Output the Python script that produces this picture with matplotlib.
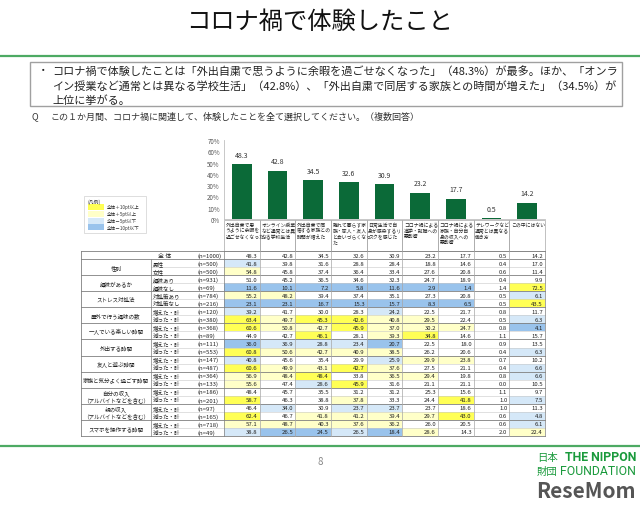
import matplotlib
matplotlib.use("Agg")
import matplotlib.pyplot as plt
from matplotlib.patches import Rectangle

plt.rcParams['font.family'] = ['Noto Sans CJK JP', 'DejaVu Sans']

# chart data
items = [
    "外出自粛で思\nうように余暇を\n過ごせなくなった",
    "オンライン授業\nなど通常とは異\nなる学校生活",
    "外出自粛で同\n居する家族との\n時間が増えた",
    "離れて暮らす家\n族・恋人・友人\nと会いづらくなっ\nた",
    "日常生活で自\n身が感染するリ\nスクを感じた",
    "コロナ禍による\n進学・就職への\n悪影響",
    "コロナ禍による\n家族・自分自\n身の収入への\n悪影響",
    "テレワークなど\n通常とは異なる\n働き方",
    "この中にはない",
]
overall = [48.3, 42.8, 34.5, 32.6, 30.9, 23.2, 17.7, 0.5, 14.2]

group_labels = ["性別", "趣味があるか", "ストレス対処法", "屋外で行う趣味の数",
                "一人でいる楽しい時間", "外出する時間", "友人と遊ぶ時間",
                "家族と気分よく過ごす時間", "自分の収入\n（アルバイトなどを含む）",
                "親の収入\n（アルバイトなどを含む）", "スマホを操作する時間"]
sub_labels = ["男性", "女性", "趣味あり", "趣味なし", "対処策あり", "対処策なし"] + \
    ["増えた・計", "減った・計"] * 8
n_labels = ["(n=500)", "(n=500)", "(n=931)", "(n=69)", "(n=784)", "(n=216)",
            "(n=120)", "(n=380)", "(n=368)", "(n=89)", "(n=111)", "(n=553)",
            "(n=147)", "(n=487)", "(n=364)", "(n=133)", "(n=186)", "(n=201)",
            "(n=97)", "(n=165)", "(n=718)", "(n=49)"]
row_values = [
    [41.8, 39.8, 31.6, 28.8, 28.4, 18.8, 14.6, 0.4, 17.0],
    [54.8, 45.8, 37.4, 36.4, 33.4, 27.6, 20.8, 0.6, 11.4],
    [51.0, 45.2, 36.5, 34.6, 32.3, 24.7, 18.9, 0.4, 9.9],
    [11.6, 10.1, 7.2, 5.8, 11.6, 2.9, 1.4, 1.4, 72.5],
    [55.2, 48.2, 39.4, 37.4, 35.1, 27.3, 20.8, 0.5, 6.1],
    [23.1, 23.1, 16.7, 15.3, 15.7, 8.3, 6.5, 0.5, 43.5],
    [39.2, 41.7, 30.0, 28.3, 24.2, 22.5, 21.7, 0.8, 11.7],
    [63.4, 49.7, 45.3, 42.6, 40.8, 29.5, 22.4, 0.5, 6.3],
    [60.6, 50.8, 42.7, 45.9, 37.0, 30.2, 24.7, 0.8, 4.1],
    [44.9, 42.7, 46.1, 28.1, 39.3, 34.8, 14.6, 1.1, 15.7],
    [36.0, 36.9, 28.8, 23.4, 20.7, 22.5, 18.0, 0.9, 13.5],
    [60.8, 50.6, 42.7, 40.9, 38.5, 26.2, 20.6, 0.4, 6.3],
    [40.8, 45.6, 35.4, 29.9, 25.9, 29.9, 23.8, 0.7, 10.2],
    [60.6, 49.9, 43.1, 42.7, 37.6, 27.5, 21.1, 0.4, 6.6],
    [56.9, 48.4, 48.4, 33.8, 36.5, 29.4, 19.8, 0.8, 6.6],
    [55.6, 47.4, 28.6, 45.9, 31.6, 21.1, 21.1, 0.0, 10.5],
    [48.4, 45.7, 35.5, 31.2, 31.2, 25.3, 15.6, 1.1, 9.7],
    [58.7, 46.3, 38.8, 37.8, 33.3, 24.4, 41.8, 1.0, 7.5],
    [46.4, 34.0, 30.9, 23.7, 23.7, 23.7, 18.6, 1.0, 11.3],
    [62.4, 46.7, 41.8, 41.2, 39.4, 29.7, 43.0, 0.6, 4.8],
    [57.1, 48.7, 40.3, 37.6, 36.2, 26.0, 20.5, 0.6, 6.1],
    [38.8, 26.5, 24.5, 26.5, 18.4, 28.6, 14.3, 2.0, 22.4],
]

legend_labels = ["全体＋10pt以上", "全体＋5pt以上", "全体－5pt以下", "全体－10pt以下"]

GREEN = "#0b6a38"
LINE_GREEN = "#4daa63"
C_UP10, C_UP5, C_DN5, C_DN10 = "#ffff55", "#ffffc8", "#d5e8f8", "#99c3ec"
GRID = "#a6a6a6"

W, H = 640, 510
fig = plt.figure(figsize=(6.4, 5.1), dpi=100)
ax = fig.add_axes([0, 0, 1, 1])
ax.set_xlim(0, W)
ax.set_ylim(H, 0)
ax.axis('off')

# title and frame
ax.text(320, 22, "コロナ禍で体験したこと", ha='center', va='center', fontsize=17.5, color='#111111')
ax.plot([0, W], [57, 57], color=LINE_GREEN, lw=1.6)
ax.plot([0, W], [447, 447], color=LINE_GREEN, lw=1.6)
ax.add_patch(Rectangle((30, 63), 592, 44, fill=False, ec='#a0a0a0', lw=1.0))
summary = ["コロナ禍で体験したことは「外出自粛で思うように余暇を過ごせなくなった」（48.3%）が最多。ほか、「オンラ",
           "イン授業など通常とは異なる学校生活」（42.8%）、「外出自粛で同居する家族との時間が増えた」（34.5%）が",
           "上位に挙がる。"]
ax.text(38, 71, "・", ha='left', va='center', fontsize=7.5, color='#222222')
for k, line in enumerate(summary):
    ax.text(52, 71 + k * 15, line, ha='left', va='center', fontsize=8.0, color='#222222')
ax.text(32, 117, "Q", ha='left', va='center', fontsize=6.5, color='#333333')
ax.text(50, 117, "この１か月間、コロナ禍に関連して、体験したことを全て選択してください。（複数回答）",
        ha='left', va='center', fontsize=6.5, color='#333333')

# table layout
col_left = 224
col_w = (545 - col_left) / len(items)
x_tab, x_sub, x_n = 81, 151, 196
y_head, y_top, y_bot = 221, 252, 437
n_rows = 1 + len(row_values)
row_h = (y_bot - y_top) / n_rows


def cell_color(v, base):
    d = v - base
    if d >= 10:
        return C_UP10
    if d >= 5:
        return C_UP5
    if d <= -10:
        return C_DN10
    if d <= -5:
        return C_DN5
    return None


all_rows = [overall] + row_values
for i, vals in enumerate(all_rows):
    y0 = y_top + i * row_h
    for j, v in enumerate(vals):
        c = cell_color(v, overall[j])
        if c:
            ax.add_patch(Rectangle((col_left + j * col_w, y0), col_w, row_h, fc=c, ec='none'))
        ax.text(col_left + (j + 1) * col_w - 2, y0 + row_h / 2, f"{v:.1f}",
                ha='right', va='center', fontsize=4.3, color='#222222')

# header cells (category names)
for j, name in enumerate(items):
    x0 = col_left + j * col_w
    ax.add_patch(Rectangle((x0, y_head), col_w, y_top - y_head, fill=False, ec=GRID, lw=0.5))
    ax.text(x0 + 1.5, y_head + 1.5, name, ha='left', va='top', fontsize=3.5,
            linespacing=1.25, color='#222222')

# row labels
ax.text(165, y_top + row_h / 2, "全 体", ha='center', va='center', fontsize=4.3, color='#222222')
ax.text(x_n + 2, y_top + row_h / 2, "(n=1000)", ha='left', va='center', fontsize=4.3, color='#222222')
for g, label in enumerate(group_labels):
    yc = y_top + (1 + 2 * g + 1) * row_h
    ax.text((x_tab + x_sub) / 2, yc, label, ha='center', va='center', fontsize=4.0,
            linespacing=1.1, color='#222222')
for r, (sub, n) in enumerate(zip(sub_labels, n_labels)):
    yc = y_top + (r + 1.5) * row_h
    ax.text(x_sub + 2, yc, sub, ha='left', va='center', fontsize=4.0, color='#222222')
    ax.text(x_n + 2, yc, n, ha='left', va='center', fontsize=4.3, color='#222222')

# grid lines
for i in range(n_rows + 1):
    y = y_top + i * row_h
    if i <= 1 or (i - 1) % 2 == 0:
        ax.plot([x_tab, 545], [y, y], color='#7f7f7f', lw=0.6)
    else:
        ax.plot([x_sub, 545], [y, y], color='#c8c8c8', lw=0.4)
ax.plot([x_tab, x_tab], [y_top, y_bot], color='#7f7f7f', lw=0.6)
ax.plot([x_sub, x_sub], [y_top + row_h, y_bot], color='#7f7f7f', lw=0.5)
for j in range(len(items) + 1):
    x = col_left + j * col_w
    ax.plot([x, x], [y_top, y_bot], color=GRID if 0 < j < len(items) else '#7f7f7f', lw=0.5)

# legend
ax.add_patch(Rectangle((84, 197), 62, 37, fc='white', ec='#d0d0d0', lw=0.5))
ax.text(88, 202, "(凡例)", ha='left', va='center', fontsize=3.5, color='#333333')
for k, (lab, c) in enumerate(zip(legend_labels, [C_UP10, C_UP5, C_DN5, C_DN10])):
    yk = 205 + k * 6.8
    ax.add_patch(Rectangle((88, yk), 16, 6, fc=c, ec='none'))
    ax.text(107, yk + 3, lab, ha='left', va='center', fontsize=3.3, color='#333333')

# footer
ax.text(320, 462, "8", ha='center', va='center', fontsize=7, color='#888888')
ax.text(537, 458, "日本", ha='left', va='center', fontsize=7.5, color='#1a9a3c')
ax.text(537, 472, "財団", ha='left', va='center', fontsize=7.5, color='#1a9a3c')
ax.text(636, 458, "THE NIPPON", ha='right', va='center', fontsize=8.8, fontweight='bold',
        family='Roboto', color='#1a9a3c')
ax.text(636, 472, "FOUNDATION", ha='right', va='center', fontsize=8.8,
        family='Roboto', color='#1a9a3c')
ax.text(636, 492, "ReseMom", ha='right', va='center', fontsize=15, fontweight='bold', color='#555555')

# bar chart
bx = fig.add_axes([col_left / W, 1 - 220 / H, (545 - col_left) / W, (220 - 141) / H])
bx.patch.set_alpha(0)
xs = range(len(items))
bars = bx.bar(xs, overall, width=0.55, color=GREEN)
for x, v in zip(xs, overall):
    bx.annotate(f"{v:.1f}", (x, v), xytext=(0, 4), textcoords='offset points',
                ha='center', va='bottom', fontsize=5, color='#333333')
bx.set_xlim(-0.5, len(items) - 0.5)
bx.set_ylim(0, 70)
bx.set_yticks(range(0, 71, 10))
bx.set_yticklabels([f"{t}%" for t in range(0, 71, 10)], fontsize=4.5, color='#595959')
bx.set_xticks([])
bx.tick_params(axis='y', length=0, pad=3)
for s in ['top', 'right']:
    bx.spines[s].set_visible(False)
bx.spines['left'].set_color('#bfbfbf')
bx.spines['bottom'].set_color('#bfbfbf')
bx.spines['left'].set_linewidth(0.6)
bx.spines['bottom'].set_linewidth(0.6)

fig.savefig("out.png", dpi=100)
